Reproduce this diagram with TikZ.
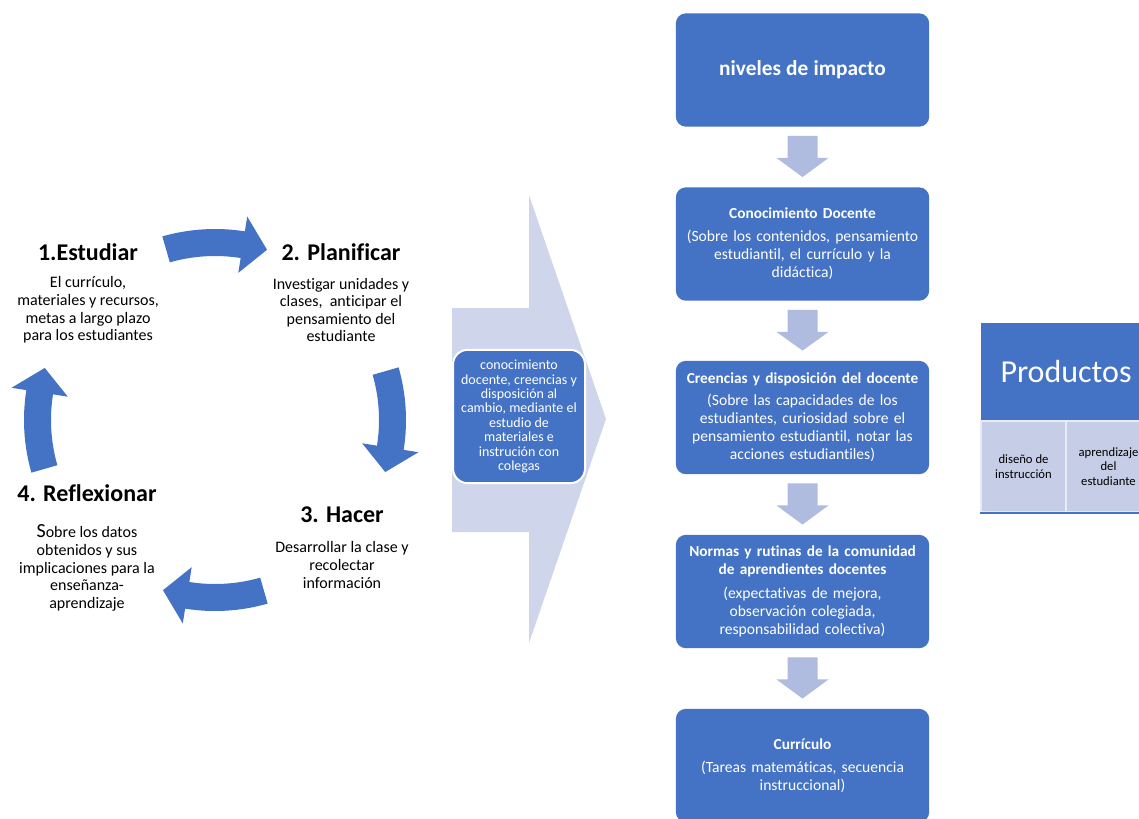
\documentclass[tikz,border=0pt]{standalone}
\usepackage{fontspec}
\setmainfont{Carlito}[Ligatures=NoCommon]
\usetikzlibrary{calc}
\definecolor{ppblue}{HTML}{4472C4}
\definecolor{pplight}{HTML}{AFBCDF}
\definecolor{ppchev}{HTML}{CFD5EA}
\definecolor{ppcell}{HTML}{C6CDE6}
\newcommand{\lvltitle}[1]{{\fontsize{11.5}{13}\selectfont\bfseries #1}}
\tikzset{
  levelbox/.style={fill=ppblue, rounded corners=7.5pt, minimum width=190pt, minimum height=85pt,
    text width=188pt, align=center, text=white, inner sep=0pt, font=\fontsize{11.7}{13.5}\selectfont},
  steptitle/.style={font=\fontsize{18}{20}\selectfont\bfseries},
  stepbody/.style={align=center, font=\fontsize{12}{13.2}\selectfont},
  chevbox/.style={fill=ppblue, draw=white, line width=1.5pt, rounded corners=11pt, minimum width=99pt,
    minimum height=100pt, inner sep=0pt, text=white, align=center, font=\fontsize{10.5}{10.8}\selectfont},
  prodhead/.style={fill=ppblue, minimum width=127.5pt, minimum height=73.5pt, inner sep=0pt,
    text=white, font=\fontsize{24}{28}\selectfont},
  prodcell/.style={fill=ppcell, draw=white!60!ppcell, line width=1.5pt, minimum width=63.75pt,
    minimum height=68.25pt, inner sep=0pt, align=center, font=\fontsize{9.5}{11}\selectfont},
  downarr/.style={fill=pplight}
}
\begin{document}
\begin{tikzpicture}[x=0.75pt,y=-0.75pt]
\useasboundingbox (0,0) rectangle (1139,818);

% cycle of the lesson study
\begin{scope}[shift={(215,420)},yscale=-1]
\foreach \rot in {0,-90,-180,-270}
\fill[ppblue,rotate=\rot] (106:191) arc[start angle=106,end angle=81,radius=191] -- (81:206) -- (73:178)
  -- (81:149) -- (81:164) arc[start angle=81,end angle=106,radius=164] -- cycle;
\end{scope}

\node[steptitle] (estudiar) at (88,252) {1.Estudiar};
\node[stepbody] (estudiartxt) at (88,310) {El currículo,\\ materiales y recursos,\\ metas a largo plazo\\ para los estudiantes};
\node[steptitle] (planificar) at (341,252) {2. Planificar};
\node[stepbody] (planificartxt) at (341,310) {Investigar unidades y\\ clases,\ \ anticipar el\\ pensamiento del\\ estudiante};
\node[steptitle] (hacer) at (342,515) {3. Hacer};
\node[stepbody] (hacertxt) at (342,565) {Desarrollar la clase y\\ recolectar\\ información};
\node[steptitle] (reflexionar) at (87,493) {4. Reflexionar};
\node[stepbody] (reflexionartxt) at (87,568) {{\fontsize{15}{15}\selectfont S}obre los datos\\ obtenidos y sus\\ implicaciones para la\\ enseñanza-\\ aprendizaje};

% big chevron with the study
\fill[ppchev] (452,308) -- (529,308) -- (529,195) -- (606,419) -- (529,643) -- (529,532) -- (452,532) -- cycle;
\node[chevbox] (estudio) at (519,416.5) {conocimiento\\ docente, creencias y\\ disposición al\\ cambio, mediante el\\ estudio de\\ materiales e\\ instrución con\\ colegas};

% levels of impact
\node[levelbox] (nivel) at (802.5,70) {\fontsize{16}{19}\selectfont\bfseries niveles de impacto};
\node[levelbox] (conoc) at (802.5,244) {\lvltitle{Conocimiento Docente}\\[4pt](Sobre los contenidos, pensamiento\\ estudiantil, el currículo y la\\ didáctica)};
\node[levelbox] (creen) at (802.5,417.5) {\lvltitle{Creencias y disposición del docente}\\[3pt](Sobre las capacidades de los\\ estudiantes, curiosidad sobre el\\ pensamiento estudiantil, notar las\\ acciones estudiantiles)};
\node[levelbox] (normas) at (802.5,591.5) {\lvltitle{Normas y rutinas de la comunidad}\\ \lvltitle{de aprendientes docentes}\\[4pt](expectativas de mejora,\\ observación colegiada,\\ responsabilidad colectiva)};
\node[levelbox] (curric) at (802.5,765.5) {\lvltitle{Currículo}\\[4pt](Tareas matemáticas, secuencia\\ instruccional)};

\foreach \a/\b in {nivel/conoc,conoc/creen,creen/normas,normas/curric}
\fill[downarr] ($(\a.south)+(-15,9)$) -- ($(\a.south)+(-15,31)$) -- ($(\a.south)+(-26,31)$) -- ($(\b.north)+(0,-10)$)
  -- ($(\a.south)+(26,31)$) -- ($(\a.south)+(15,31)$) -- ($(\a.south)+(15,9)$) -- cycle;

% products
\node[prodhead] (prod) at (1066,372) {Productos};
\node[prodcell] (diseno) at (1023.5,466.5) {diseño de\\ instrucción};
\node[prodcell] (aprend) at (1108.5,466.5) {aprendizaje\\ del\\ estudiante};
\draw[ppblue,line width=1.5pt] (diseno.south west) -- (aprend.south east);

\end{tikzpicture}
\end{document}
